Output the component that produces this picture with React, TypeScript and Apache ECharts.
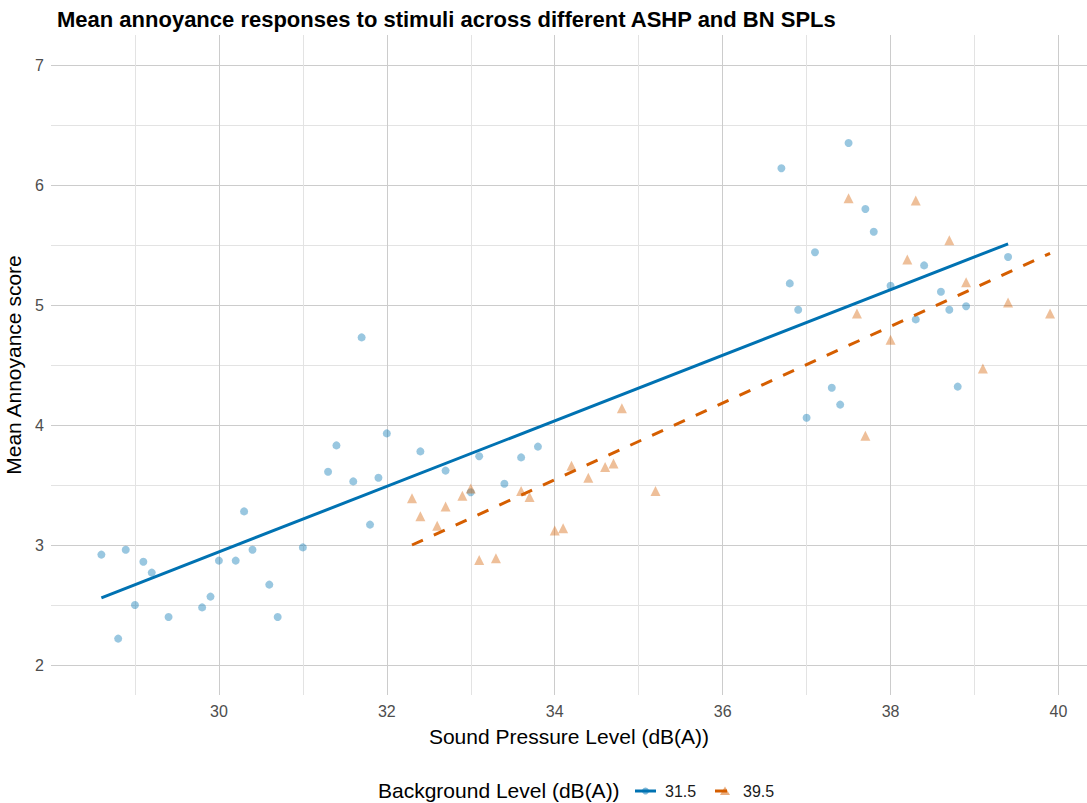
import React, { useEffect, useRef } from "react";
import * as echarts from "echarts";

// Background level 31.5 dB(A): ASHP SPL (x) and mean annoyance (y)
const bg315X = [28.6, 28.8, 28.89, 29.0, 29.1, 29.2, 29.4, 29.8, 29.9, 30.0, 30.2, 30.3, 30.4, 30.6, 30.7, 31.0, 31.3, 31.4, 31.6, 31.7, 31.8, 31.9, 32.0, 32.4, 32.7, 33.0, 33.1, 33.4, 33.6, 33.8, 36.7, 36.8, 36.9, 37.0, 37.1, 37.3, 37.4, 37.5, 37.7, 37.8, 38.0, 38.3, 38.4, 38.6, 38.7, 38.8, 38.9, 39.4];
const bg315Y = [2.92, 2.22, 2.96, 2.5, 2.86, 2.77, 2.4, 2.48, 2.57, 2.87, 2.87, 3.28, 2.96, 2.67, 2.4, 2.98, 3.61, 3.83, 3.53, 4.73, 3.17, 3.56, 3.93, 3.78, 3.62, 3.44, 3.74, 3.51, 3.73, 3.82, 6.14, 5.18, 4.96, 4.06, 5.44, 4.31, 4.17, 6.35, 5.8, 5.61, 5.16, 4.88, 5.33, 5.11, 4.96, 4.32, 4.99, 5.4];

// Background level 39.5 dB(A)
const bg395X = [32.3, 32.4, 32.6, 32.7, 32.9, 33.0, 33.1, 33.3, 33.6, 33.7, 34.0, 34.1, 34.2, 34.4, 34.6, 34.7, 34.8, 35.2, 37.5, 37.6, 37.7, 38.0, 38.2, 38.3, 38.7, 38.9, 39.1, 39.4, 39.9];
const bg395Y = [3.39, 3.24, 3.16, 3.32, 3.41, 3.47, 2.875, 2.89, 3.45, 3.4, 3.12, 3.14, 3.66, 3.56, 3.65, 3.68, 4.14, 3.45, 5.89, 4.93, 3.91, 4.71, 5.38, 5.87, 5.54, 5.19, 4.47, 5.02, 4.93];

// Linear fit lines (endpoints)
const fit315X = [28.6, 39.4];
const fit315Y = [2.56, 5.51];
const fit395X = [32.3, 39.9];
const fit395Y = [3.0, 5.43];

const xTicks = [30, 32, 34, 36, 38, 40];
const yTicks = [2, 3, 4, 5, 6, 7];
const legendLabels = ["31.5", "39.5"];

const BLUE = "#0072B2";
const ORANGE = "#D55E00";
const FONT = "'Liberation Sans', Arial, sans-serif";

const zip = (xs: number[], ys: number[]) => xs.map((x, i) => [x, ys[i]]);

export default function App() {
  const ref = useRef<HTMLDivElement>(null);
  useEffect(() => {
    if (!ref.current) return;
    const chart = echarts.init(ref.current, undefined, { renderer: "svg" });
    const legendY = 791;
    chart.setOption({
      animation: false,
      backgroundColor: "#ffffff",
      textStyle: { fontFamily: FONT },
      title: {
        text: "Mean annoyance responses to stimuli across different ASHP and BN SPLs",
        left: 52,
        top: 3,
        textStyle: { fontSize: 22, fontWeight: "bold", color: "#000", fontFamily: FONT },
      },
      grid: { left: 51, right: 0, top: 35, bottom: 108, containLabel: false, outerBoundsMode: "none" },
      xAxis: {
        type: "value",
        min: 28,
        max: 40.34,
        interval: 2,
        name: "Sound Pressure Level (dB(A))",
        nameLocation: "middle",
        nameGap: 31,
        nameTextStyle: { fontSize: 21, color: "#000", fontFamily: FONT },
        axisLine: { show: false },
        axisTick: { show: false },
        axisLabel: {
          showMinLabel: false,
          margin: 8,
          fontSize: 16,
          color: "#4d4d4d",
          fontFamily: FONT,
          formatter: (v: number) => (xTicks.includes(v) ? String(v) : ""),
        },
        splitLine: { show: true, showMinLine: false, lineStyle: { color: "#cccccc", width: 1 } },
        minorTick: { show: false, splitNumber: 2 },
        minorSplitLine: { show: true, lineStyle: { color: "#e3e3e3", width: 1 } },
      },
      yAxis: {
        type: "value",
        min: 1.75,
        max: 7.25,
        interval: 0.25,
        name: "Mean Annoyance score",
        nameLocation: "middle",
        nameGap: 18,
        nameTextStyle: { fontSize: 21, color: "#000", fontFamily: FONT },
        axisLine: { show: false },
        axisTick: { show: false },
        axisLabel: {
          margin: 7,
          fontSize: 16,
          color: "#4d4d4d",
          fontFamily: FONT,
          formatter: (v: number) => (yTicks.includes(v) ? String(v) : ""),
        },
        splitLine: {
          show: true,
          lineStyle: { color: ["rgba(0,0,0,0)", "#cccccc", "rgba(0,0,0,0)", "#e3e3e3"], width: 1 },
        },
      },
      series: [
        {
          name: "31.5 points",
          type: "scatter",
          symbol: "circle",
          symbolSize: 8,
          itemStyle: { color: "rgba(0,114,178,0.5)" },
          data: zip(bg315X, bg315Y),
          z: 2,
        },
        {
          name: "39.5 points",
          type: "scatter",
          symbol: "triangle",
          symbolSize: 10,
          itemStyle: { color: "rgba(213,94,0,0.5)" },
          data: zip(bg395X, bg395Y),
          z: 2,
        },
        {
          name: "31.5",
          type: "line",
          showSymbol: false,
          symbol: "none",
          lineStyle: { color: BLUE, width: 3 },
          data: zip(fit315X, fit315Y),
          z: 3,
        },
        {
          name: "39.5",
          type: "line",
          showSymbol: false,
          symbol: "none",
          lineStyle: { color: ORANGE, width: 3, type: [12, 12] },
          data: zip(fit395X, fit395Y),
          z: 3,
        },
      ],
      graphic: [
        {
          type: "text",
          left: 378,
          top: legendY - 11,
          style: { text: "Background Level (dB(A))", fill: "#000", font: `21px ${FONT}` },
        },
        { type: "line", shape: { x1: 635, y1: legendY, x2: 656, y2: legendY }, style: { stroke: BLUE, lineWidth: 3 } },
        { type: "circle", shape: { cx: 645.5, cy: legendY, r: 3.5 }, style: { fill: "rgba(0,114,178,0.5)" } },
        {
          type: "text",
          left: 665,
          top: legendY - 8,
          style: { text: legendLabels[0], fill: "#1a1a1a", font: `16px ${FONT}` },
        },
        { type: "line", shape: { x1: 715, y1: legendY, x2: 727, y2: legendY }, style: { stroke: ORANGE, lineWidth: 3 } },
        {
          type: "polygon",
          shape: { points: [[725, legendY - 4.5], [730, legendY + 4], [720, legendY + 4]] },
          style: { fill: "rgba(213,94,0,0.5)" },
        },
        {
          type: "text",
          left: 743,
          top: legendY - 8,
          style: { text: legendLabels[1], fill: "#1a1a1a", font: `16px ${FONT}` },
        },
      ],
    });
    return () => chart.dispose();
  }, []);
  return (
    <div
      ref={ref}
      style={{ position: "fixed", left: 0, top: 0, width: 1087, height: 803 }}
    />
  );
}
